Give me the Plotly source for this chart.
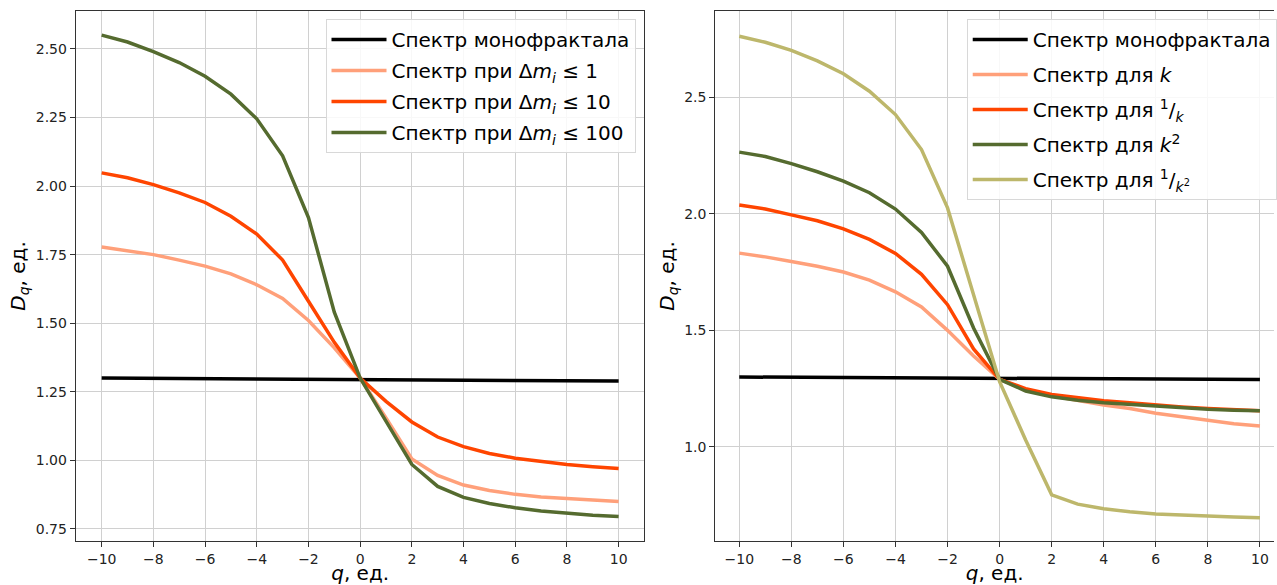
import plotly.graph_objects as go

q = list(range(-10, 11))

# Left panel
left_mono = [1.300, 1.2995, 1.299, 1.2985, 1.298, 1.2975, 1.297, 1.2965, 1.296, 1.2955, 1.295,
             1.2945, 1.294, 1.2935, 1.293, 1.2925, 1.292, 1.2915, 1.291, 1.2905, 1.289]
left_dm1 = [1.778, 1.765, 1.750, 1.730, 1.708, 1.680, 1.640, 1.590, 1.510, 1.410, 1.300,
            1.155, 1.005, 0.945, 0.910, 0.890, 0.876, 0.866, 0.860, 0.855, 0.850]
left_dm10 = [2.048, 2.030, 2.005, 1.975, 1.940, 1.890, 1.825, 1.730, 1.580, 1.430, 1.300,
             1.215, 1.140, 1.085, 1.050, 1.025, 1.008, 0.995, 0.985, 0.977, 0.970]
left_dm100 = [2.550, 2.525, 2.490, 2.450, 2.400, 2.335, 2.245, 2.110, 1.885, 1.540, 1.300,
              1.140, 0.985, 0.905, 0.865, 0.843, 0.827, 0.815, 0.807, 0.800, 0.795]

# Right panel
right_mono = [1.300, 1.2995, 1.299, 1.2985, 1.298, 1.2975, 1.297, 1.2965, 1.296, 1.2955, 1.295,
              1.2945, 1.294, 1.2935, 1.293, 1.2925, 1.292, 1.2915, 1.291, 1.2905, 1.289]
right_k = [1.831, 1.815, 1.795, 1.775, 1.750, 1.715, 1.665, 1.600, 1.500, 1.390, 1.290,
           1.245, 1.220, 1.200, 1.180, 1.165, 1.145, 1.130, 1.115, 1.100, 1.090]
right_inv_k = [2.037, 2.020, 1.995, 1.970, 1.935, 1.890, 1.830, 1.740, 1.610, 1.420, 1.290,
               1.250, 1.225, 1.210, 1.198, 1.190, 1.180, 1.172, 1.165, 1.160, 1.155]
right_k2 = [2.264, 2.245, 2.215, 2.180, 2.140, 2.090, 2.020, 1.920, 1.775, 1.510, 1.290,
            1.240, 1.215, 1.200, 1.190, 1.183, 1.175, 1.168, 1.162, 1.158, 1.155]
right_inv_k2 = [2.761, 2.735, 2.700, 2.655, 2.600, 2.525, 2.425, 2.275, 2.025, 1.650, 1.280,
                1.030, 0.795, 0.755, 0.735, 0.722, 0.713, 0.708, 0.703, 0.700, 0.697]

left_names = ["Спектр монофрактала",
              "Спектр при Δ<i>m</i><sub><i>i</i></sub> ≤ 1",
              "Спектр при Δ<i>m</i><sub><i>i</i></sub> ≤ 10",
              "Спектр при Δ<i>m</i><sub><i>i</i></sub> ≤ 100"]
right_names = ["Спектр монофрактала",
               "Спектр для <i>k</i>",
               "Спектр для <sup>1</sup>/<sub><i>k</i></sub>",
               "Спектр для <i>k</i><sup>2</sup>",
               "Спектр для <sup>1</sup>/<sub><i>k</i><sup>2</sup></sub>"]
colors_left = ["#000000", "#FFA07A", "#FF4500", "#556B2F"]
colors_right = ["#000000", "#FFA07A", "#FF4500", "#556B2F", "#BDB76B"]

W, H = 1277, 585
fig = go.Figure()

for i, (ys, name, c) in enumerate(zip([left_mono, left_dm1, left_dm10, left_dm100], left_names, colors_left)):
    fig.add_trace(go.Scatter(x=q, y=ys, mode="lines", name=name,
                             line=dict(color=c, width=3.5), xaxis="x", yaxis="y",
                             legend="legend", legendgroup="L%d" % i))
for i, (ys, name, c) in enumerate(zip([right_mono, right_k, right_inv_k, right_k2, right_inv_k2], right_names, colors_right)):
    fig.add_trace(go.Scatter(x=q, y=ys, mode="lines", name=name,
                             line=dict(color=c, width=3.5), xaxis="x2", yaxis="y2",
                             legend="legend2", legendgroup="R%d" % i))

font_family = "DejaVu Sans"
tickfont = dict(family=font_family, size=14, color="#222")
titlefont = dict(family=font_family, size=20, color="#000")
grid = "#d0d0d0"

common_x = dict(tickmode="array", tickvals=list(range(-10, 11, 2)),
                ticktext=[("−" + str(-v)) if v < 0 else str(v) for v in range(-10, 11, 2)],
                showgrid=True, gridcolor=grid, gridwidth=1, zeroline=False,
                showline=True, linecolor="#333", linewidth=1.2,
                ticks="outside", ticklen=5, tickcolor="#333", tickfont=tickfont,
                title=dict(text="<i>q</i>, ед.", font=titlefont, standoff=4))
common_y = dict(showgrid=True, gridcolor=grid, gridwidth=1, zeroline=False,
                showline=True, linecolor="#333", linewidth=1.2,
                ticks="outside", ticklen=5, tickcolor="#333", tickfont=tickfont,
                title=dict(text="<i>D</i><sub><i>q</i></sub>, ед.", font=titlefont, standoff=4))

l0, l1 = 76 / W, 646 / W
r0, r1 = 717 / W, 1.0

legend_common = dict(bgcolor="rgba(255,255,255,0.85)", bordercolor="#d8d8d8", borderwidth=1,
                     font=dict(family=font_family, size=20, color="#000"),
                     yanchor="top", itemwidth=55)

fig.update_layout(
    width=W, height=H,
    margin=dict(l=0, r=0, t=11, b=44),
    plot_bgcolor="white", paper_bgcolor="white",
    xaxis=dict(domain=[l0, l1], range=[-11, 11], anchor="y", mirror=True, **common_x),
    yaxis=dict(domain=[0, 1], range=[0.706, 2.638], anchor="x", mirror=True,
               tickvals=[0.75, 1.0, 1.25, 1.5, 1.75, 2.0, 2.25, 2.5],
               ticktext=["0.75", "1.00", "1.25", "1.50", "1.75", "2.00", "2.25", "2.50"],
               **common_y),
    xaxis2=dict(domain=[r0, r1], range=[-10.92, 10.54], anchor="y2", mirror=True, **common_x),
    yaxis2=dict(domain=[0, 1], range=[0.597, 2.869], anchor="x2", mirror=False,
                tickvals=[1.0, 1.5, 2.0, 2.5], ticktext=["1.0", "1.5", "2.0", "2.5"],
                **common_y),
    legend=dict(x=637 / W, y=1 - 8 / 530, xanchor="right", tracegroupgap=2, **legend_common),
    legend2=dict(x=969 / W, y=1 - 8 / 530, xanchor="left", tracegroupgap=6, **legend_common),
    showlegend=True,
)

fig.write_html("out.html", config={"displayModeBar": False},
               post_script="document.body.style.margin='0';document.body.style.overflow='hidden';")
